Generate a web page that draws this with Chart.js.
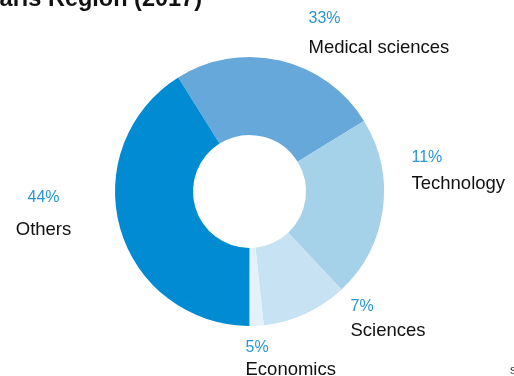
<!DOCTYPE html>
<html>
<head>
<meta charset="utf-8">
<script src="https://cdn.jsdelivr.net/npm/chart.js@4"></script>
<style>
  html, body { margin: 0; padding: 0; background: #fff; }
  #wrap { width: 514px; height: 376px; position: relative; }
</style>
</head>
<body>
<div id="wrap"><canvas id="chart" width="514" height="376"></canvas></div>
<script>
const titleText = "Pearls Region (2017)";
const categories = ["Medical sciences", "Technology", "Sciences", "Economics", "Others"];
// slice sizes as drawn in the picture
const sliceValues = [25.1, 21.8, 10.3, 1.7, 41.1];
// percentages printed next to the slices
const percentLabels = ["33%", "11%", "7%", "5%", "44%"];
const sliceColors = ["#66a8da", "#a6d2e9", "#c6e2f3", "#e5f1f9", "#008bd2"];

// label placement relative to the doughnut centre: [dx, dy of %, dy of name, align]
const labelLayout = [
  [59, -173, -144, "left"],
  [162, -34, -8, "left"],
  [101, 115, 139, "left"],
  [-4, 156, 178, "left"],
  [-206, 6, 38, "center"],
];

const labelPlugin = {
  id: "sliceLabels",
  afterDraw(chart) {
    const ctx = chart.ctx;
    const arc = chart.getDatasetMeta(0).data[0];
    const cx = arc.x, cy = arc.y;
    ctx.save();
    ctx.textBaseline = "middle";
    labelLayout.forEach((l, i) => {
      ctx.textAlign = l[3];
      ctx.fillStyle = "#2a96d5";
      ctx.font = "16px 'Liberation Sans', Arial, sans-serif";
      ctx.fillText(percentLabels[i], cx + l[0], cy + l[1]);
      ctx.fillStyle = "#111";
      ctx.font = "18.5px 'Liberation Sans', Arial, sans-serif";
      ctx.fillText(categories[i], cx + l[0], cy + l[2]);
    });
    // clipped title at the top
    ctx.textBaseline = "alphabetic";
    ctx.textAlign = "right";
    ctx.font = "bold 23.5px 'Liberation Sans', Arial, sans-serif";
    ctx.fillText(titleText, 202, 6);
    // clipped source note in the corner
    ctx.textAlign = "left";
    ctx.font = "13px 'Liberation Sans', Arial, sans-serif";
    ctx.fillStyle = "#333";
    ctx.fillText("source", 510, 374);
    ctx.restore();
  },
};

new Chart(document.getElementById("chart"), {
  type: "doughnut",
  data: {
    labels: categories,
    datasets: [{
      data: sliceValues,
      backgroundColor: sliceColors,
      borderWidth: 0,
      hoverOffset: 0,
    }],
  },
  options: {
    responsive: false,
    animation: false,
    rotation: -32,
    cutout: "42%",
    layout: { padding: { left: 115, right: 130, top: 57, bottom: 50 } },
    plugins: {
      legend: { display: false },
      tooltip: { enabled: false },
      title: { display: false },
    },
  },
  plugins: [labelPlugin],
});
</script>
</body>
</html>
